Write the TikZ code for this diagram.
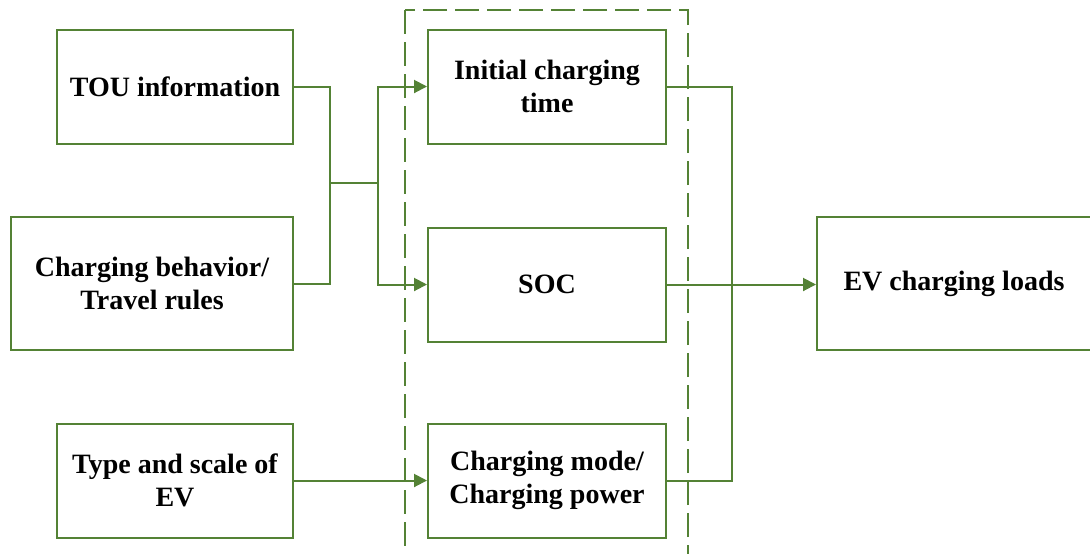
\documentclass[tikz,border=0pt]{standalone}
\usepackage{fontspec}
\setmainfont{Liberation Serif}
\usepackage{xcolor}
\usetikzlibrary{arrows.meta,positioning}
\definecolor{vgreen}{RGB}{84,130,53}

\begin{document}
\begin{tikzpicture}[
  x=0.5pt, y=-0.5pt,
  font=\bfseries\fontsize{14}{16.5}\selectfont, >={Triangle[length=6.5pt, width=6.5pt]},
  box/.style={draw=vgreen, line width=1pt, align=center, inner sep=2pt, fill=white},
  small/.style={box, minimum width=118pt, minimum height=57pt},
  wide/.style={box, minimum width=141pt, minimum height=66.5pt},
  grp/.style={draw=vgreen, line width=1pt, dash pattern=on 12pt off 4pt},
  link/.style={draw=vgreen, line width=1pt},
  arr/.style={link, ->},
]
\useasboundingbox (0,0) rectangle (1090,553);
\clip (0,0) rectangle (1090,553);
% group frame
\draw[grp] (405,10) rectangle (688,580);
% inputs
\node[small] (tou)   at (175,87)    {TOU information};
\node[wide]  (behav) at (152,283.5) {Charging behavior/\\Travel rules};
\node[small] (type)  at (175,480.5) {Type and scale of\\EV};
% inner column
\node[small, minimum width=119pt] (init) at (547,86.5)  {Initial charging\\time};
\node[small, minimum width=119pt] (soc)  at (547,284.5) {SOC};
\node[small, minimum width=119pt] (mode) at (547,480.5) {Charging mode/\\Charging power};
% output
\node[wide, minimum width=137pt] (load) at (954,283.5) {EV charging loads};
% junctions
\coordinate (jl) at (330,183);
\coordinate (jr) at (378,183);
\coordinate (jo) at (732,283);
% arrows
\draw[link] (tou.east) -| (jl);
\draw[link] (behav.east) -| (jl);
\draw[link] (jl) -- (jr);
\draw[arr] (jr) |- (init.west);
\draw[arr] (jr) |- (soc.west);
\draw[arr] (type.east) -- (mode.west);
\draw[link] (init.east) -| (jo);
\draw[link] (jo) |- (mode.east);
\draw[arr] (soc.east) -- (soc.east -| load.west);
\end{tikzpicture}
\end{document}
